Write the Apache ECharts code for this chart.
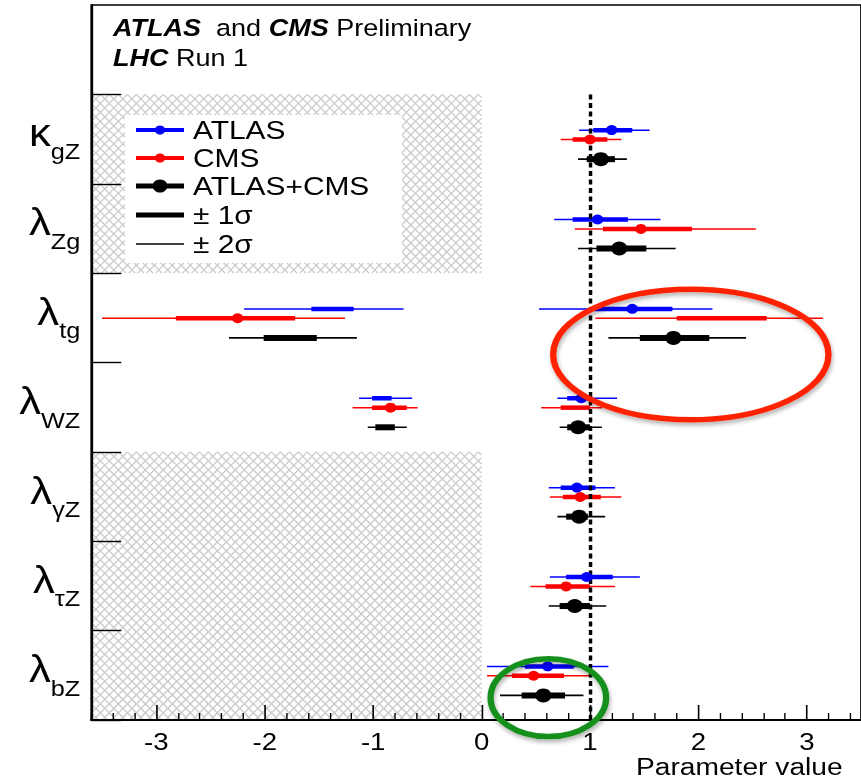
<!DOCTYPE html>
<html>
<head>
<meta charset="utf-8">
<script src="https://cdn.jsdelivr.net/npm/echarts@6/dist/echarts.min.js"></script>
<style>
  html, body { margin: 0; padding: 0; background: #fff; overflow: hidden; }
  #wrap { width: 861px; height: 780px; overflow: hidden; position: relative; }
  #chart { height: 780px; transform-origin: 0 0; }
</style>
</head>
<body>
<div id="wrap"><div id="chart"></div></div>
<script>
// ---- data -------------------------------------------------------------
// coupling-ratio parameters, top to bottom
const paramNames = [['κ', 'gZ'], ['λ', 'Zg'], ['λ', 'tg'], ['λ', 'WZ'], ['λ', 'γZ'], ['λ', 'τZ'], ['λ', 'bZ']];

// best-fit values
const atlasBest = [1.20, 1.07, 1.39, 0.92, 0.88, 0.97, 0.61];
const cmsBest   = [1.00, 1.47, -2.25, -0.84, 0.91, 0.78, 0.48];
const combBest  = [1.10, 1.27, 1.77, 0.89, 0.90, 0.86, 0.57];

// ±1σ intervals (a parameter may have two disjoint intervals)
const atlas1s = [[[1.03, 1.39]], [[0.84, 1.35]], [[-1.57, -1.18], [1.04, 1.76]], [[-1.01, -0.83], [0.79, 1.00]], [[0.73, 1.05]], [[0.78, 1.21]], [[0.40, 0.85]]];
const cms1s   = [[[0.84, 1.16]], [[1.12, 1.94]], [[-2.82, -1.72], [1.80, 2.63]], [[-1.01, -0.69], [0.73, 1.00]], [[0.75, 1.10]], [[0.59, 1.00]], [[0.28, 0.76]]];
const comb1s  = [[[0.97, 1.23]], [[1.06, 1.52]], [[-2.01, -1.52], [1.46, 2.10]], [[-0.98, -0.80], [0.79, 1.00]], [[0.78, 0.98]], [[0.72, 1.00]], [[0.37, 0.77]]];

// ±2σ intervals
const atlas2s = [[[0.90, 1.55]], [[0.67, 1.65]], [[-2.19, -0.72], [0.53, 2.13]], [[-1.13, -0.64], [0.70, 1.25]], [[0.62, 1.23]], [[0.63, 1.46]], [[0.05, 1.17]]];
const cms2s   = [[[0.73, 1.29]], [[0.86, 2.53]], [[-3.50, -1.26], [1.05, 3.15]], [[-1.19, -0.59], [0.55, 1.11]], [[0.63, 1.29]], [[0.45, 1.23]], [[0.05, 1.02]]];
const comb2s  = [[[0.89, 1.34]], [[0.89, 1.79]], [[-2.33, -1.15], [1.17, 2.44]], [[-1.05, -0.69], [0.72, 1.11]], [[0.70, 1.14]], [[0.62, 1.15]], [[0.17, 0.94]]];

// axis ticks and labels
const xMin = -3.6, xMax = 3.5;
const xMajorTicks = [-3, -2, -1, 0, 1, 2, 3];
const yBoundaries = [0, 1, 2, 3, 4, 5, 6, 7];

// parameter rows with a hatched band left of zero
const hatchedRows = [[0, 2], [4, 7]];
// SM expectation
const smValue = 1;

// highlighted regions (data units)
const highlights = [
  { cx: 1.93, cy: 2.91, rx: 1.27, ry: 0.73, color: '#ff2200' },
  { cx: 0.616, cy: 6.75, rx: 0.533, ry: 0.436, color: '#16901c' }
];

// ---- layout -----------------------------------------------------------
const SX = 1.15;                 // horizontal stretch of the whole figure
const W = 861 / SX, H = 780;
const FONT = '"Liberation Sans", Arial, Helvetica, sans-serif';
const el = document.getElementById('chart');
el.style.width = W + 'px';
el.style.transform = 'scaleX(' + SX + ')';

// vertical position of each experiment inside a parameter row
const OFF_ATLAS = 0.40, OFF_CMS = 0.505, OFF_COMB = 0.725;

const xMinorTicks = [];
for (let k = -18; k <= 17; k++) {
  const v = Math.round(k * 2) / 10;
  if (Math.abs(v - Math.round(v)) > 1e-6) xMinorTicks.push(v);
}

// cross-hatched band: two families of diagonal lines clipped to the band
function hatchSeries() {
  const HP = 9;                  // lattice period, px
  return {
    type: 'custom', name: 'hatch', z: 0, silent: true,
    encode: { x: [0, 1], y: [2, 3] },
    data: hatchedRows.map(r => [xMin, 0, r[0], r[1]]),
    renderItem: function (params, api) {
      const a = api.coord([api.value(0), api.value(2)]);
      const b = api.coord([api.value(1), api.value(3)]);
      const x0 = Math.min(a[0], b[0]), x1 = Math.max(a[0], b[0]);
      const y0 = Math.min(a[1], b[1]), y1 = Math.max(a[1], b[1]);
      const pw = HP / SX, span = (y1 - y0) * pw / HP;
      const children = [];
      const nMax = Math.ceil((x1 - x0 + span) / pw) + 1;
      [1, -1].forEach(dir => {
        for (let k = -nMax; k <= nMax; k++) {
          const xs = x0 + k * pw, dx = dir * span;
          const tA = (x0 - xs) / dx, tB = (x1 - xs) / dx;
          const lo = Math.max(0, Math.min(tA, tB)), hi = Math.min(1, Math.max(tA, tB));
          if (hi <= lo) continue;
          children.push({
            type: 'line',
            shape: { x1: xs + lo * dx, y1: y0 + lo * (y1 - y0), x2: xs + hi * dx, y2: y0 + hi * (y1 - y0) },
            style: { stroke: '#cdcdcd', lineWidth: 1.3 }
          });
        }
      });
      return { type: 'group', children: children };
    }
  };
}

function segSeries(name, intervals, offset, color, width, z, extra) {
  const data = [];
  intervals.forEach((list, i) => list.forEach(([lo, hi]) => data.push([lo, hi, i + offset])));
  return Object.assign({
    type: 'custom',
    name: name,
    z: z,
    silent: true,
    encode: { x: [0, 1], y: 2 },
    renderItem: function (params, api) {
      const a = api.coord([api.value(0), api.value(2)]);
      const b = api.coord([api.value(1), api.value(2)]);
      return {
        type: 'line',
        shape: { x1: a[0], y1: a[1], x2: b[0], y2: b[1] },
        style: { stroke: color, lineWidth: width, lineCap: 'butt' }
      };
    },
    data: data
  }, extra || {});
}

function pointSeries(name, values, offset, color, size, z) {
  return {
    type: 'scatter',
    name: name,
    z: z,
    silent: true,
    symbol: 'circle',
    symbolSize: size,
    itemStyle: { color: color, opacity: 1 },
    data: values.map((v, i) => [v, i + offset])
  };
}

const chart = echarts.init(el, null, { renderer: 'svg', width: W, height: H });

const option = {
  animation: false,
  backgroundColor: '#ffffff',
  grid: {
    left: 91.3 / SX, top: 5, width: 772.5 / SX, height: 715,
    show: true, borderColor: '#000', borderWidth: 1.5, backgroundColor: 'transparent'
  },
  xAxis: [
    {
      type: 'value', min: xMin, max: xMax, position: 'bottom', z: 8,
      splitLine: { show: false },
      axisLine: { show: true, onZero: false, lineStyle: { color: '#000', width: 2 } },
      axisTick: { show: true, inside: true, length: 15, customValues: xMajorTicks, lineStyle: { color: '#000', width: 1.4 } },
      axisLabel: {
        show: true, customValues: xMajorTicks, margin: 11,
        fontFamily: FONT, fontSize: 24, lineHeight: 22, color: '#000',
        formatter: v => String(v)
      }
    },
    {
      type: 'value', min: xMin, max: xMax, position: 'bottom', z: 8,
      splitLine: { show: false },
      axisLine: { show: false, onZero: false },
      axisTick: { show: true, inside: true, length: 7, customValues: xMinorTicks, lineStyle: { color: '#000', width: 1.2 } },
      axisLabel: { show: false }
    }
  ],
  yAxis: {
    type: 'value', inverse: true, min: -1, max: 7, z: 8,
    splitLine: { show: false },
    axisLine: { show: true, onZero: false, lineStyle: { color: '#000', width: 2 } },
    axisTick: { show: true, inside: true, length: 30 / SX, customValues: yBoundaries, lineStyle: { color: '#000', width: 1.4 } },
    axisLabel: {
      show: true, customValues: paramNames.map((p, i) => i + 0.5), margin: 11 / SX,
      formatter: v => {
        const p = paramNames[Math.floor(v)];
        return '{g|' + p[0] + '}{s|' + p[1] + '}';
      },
      rich: {
        g: { fontFamily: FONT, fontSize: 38, color: '#000', lineHeight: 38, padding: [0, 0, 12, 0] },
        s: { fontFamily: FONT, fontSize: 22, color: '#000', lineHeight: 22, padding: [26, 0, 0, 0] }
      }
    }
  },
  series: [
    hatchSeries(),
    segSeries('ATLAS 2σ', atlas2s, OFF_ATLAS, '#0000ff', 1.5, 3, {
      markLine: {
        silent: true, symbol: ['none', 'none'], label: { show: false },
        lineStyle: { color: '#000', width: 3, type: [5, 3.5] },
        data: [[{ coord: [smValue, 0] }, { coord: [smValue, 7] }]]
      }
    }),
    segSeries('CMS 2σ', cms2s, OFF_CMS, '#ff0000', 1.5, 3),
    segSeries('ATLAS+CMS 2σ', comb2s, OFF_COMB, '#000000', 1.6, 3),
    segSeries('ATLAS 1σ', atlas1s, OFF_ATLAS, '#0000ff', 4.5, 4),
    segSeries('CMS 1σ', cms1s, OFF_CMS, '#ff0000', 4.5, 4),
    segSeries('ATLAS+CMS 1σ', comb1s, OFF_COMB, '#000000', 6, 4),
    pointSeries('ATLAS', atlasBest, OFF_ATLAS, '#0000ff', 10, 5),
    pointSeries('CMS', cmsBest, OFF_CMS, '#ff0000', 10, 5),
    pointSeries('ATLAS+CMS', combBest, OFF_COMB, '#000000', 14, 5)
  ]
};

chart.setOption(option);

// ---- overlay: header, legend, axis title, highlighted regions ---------
const fx = x => x / SX;
const g = [];

const headRich = { b: { fontFamily: FONT, fontSize: 23.5, fontWeight: 'bold', fontStyle: 'italic', fill: '#000' } };
g.push({
  type: 'text', z: 100, x: fx(113), y: 28,
  style: { text: '{b|ATLAS}  and {b|CMS} Preliminary', verticalAlign: 'middle', fill: '#000', rich: headRich, fontFamily: FONT, fontSize: 23.5 }
});
g.push({
  type: 'text', z: 100, x: fx(113), y: 58,
  style: { text: '{b|LHC} Run 1', verticalAlign: 'middle', fill: '#000', rich: headRich, fontFamily: FONT, fontSize: 23.5 }
});

// legend box
g.push({
  type: 'rect', z: 90,
  shape: { x: fx(125), y: 115, width: fx(402) - fx(125), height: 148 },
  style: { fill: '#ffffff' }
});
const legendRows = [
  { label: 'ATLAS', color: '#0000ff', lw: 4, r: 4.5, y: 130 },
  { label: 'CMS', color: '#ff0000', lw: 4, r: 4.5, y: 158 },
  { label: 'ATLAS+CMS', color: '#000000', lw: 5, r: 6.5, y: 186 },
  { label: '± 1σ', color: '#000000', lw: 5, r: 0, y: 215 },
  { label: '± 2σ', color: '#000000', lw: 1.5, r: 0, y: 244 }
];
legendRows.forEach(row => {
  g.push({
    type: 'line', z: 95,
    shape: { x1: fx(136), y1: row.y, x2: fx(184), y2: row.y },
    style: { stroke: row.color, lineWidth: row.lw }
  });
  if (row.r > 0) {
    g.push({
      type: 'circle', z: 96,
      shape: { cx: fx(160), cy: row.y, r: row.r },
      style: { fill: row.color }
    });
  }
  g.push({
    type: 'text', z: 96, x: fx(193), y: row.y,
    style: { text: row.label, fontFamily: FONT, fontSize: 26, fill: '#000', verticalAlign: 'middle' }
  });
});

// x-axis title
g.push({
  type: 'text', z: 100, x: fx(636), y: 767,
  style: { text: 'Parameter value', fontFamily: FONT, fontSize: 24.5, lineHeight: 20, fill: '#000', align: 'left', verticalAlign: 'middle' }
});

// highlighted regions
highlights.forEach(h => {
  const c = chart.convertToPixel({ gridIndex: 0 }, [h.cx, h.cy]);
  const e = chart.convertToPixel({ gridIndex: 0 }, [h.cx + h.rx, h.cy + h.ry]);
  g.push({
    type: 'ellipse', z: 110,
    shape: { cx: c[0], cy: c[1], rx: Math.abs(e[0] - c[0]), ry: Math.abs(e[1] - c[1]) },
    style: {
      fill: 'none', stroke: h.color, lineWidth: 5.5,
      shadowBlur: 4, shadowOffsetX: 1, shadowOffsetY: 3, shadowColor: 'rgba(0,0,0,0.3)'
    }
  });
});

chart.setOption({ graphic: g });
</script>
</body>
</html>
